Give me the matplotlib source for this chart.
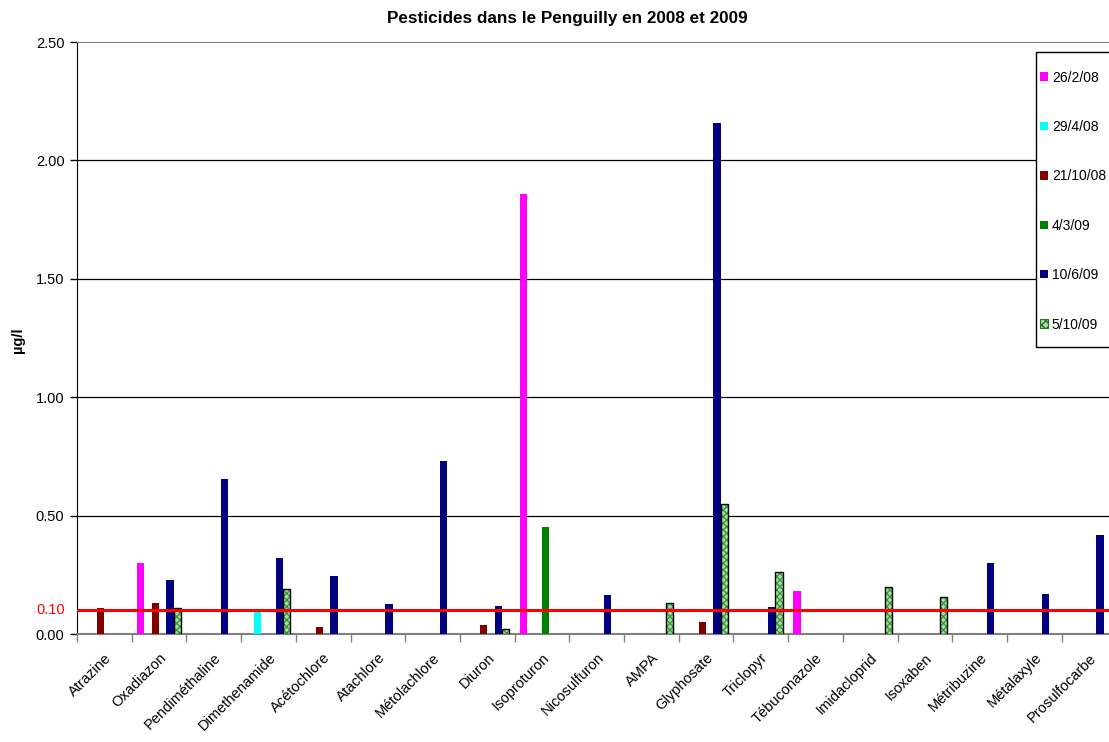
import numpy as np
import matplotlib
matplotlib.use("Agg")
import matplotlib.pyplot as plt
import matplotlib.patches as mpatches
from matplotlib.transforms import blended_transform_factory

plt.rcParams['font.family'] = ['Liberation Sans', 'DejaVu Sans']

title = "Pesticides dans le Penguilly en 2008 et 2009"
y_label = "µg/l"

categories = ["Atrazine", "Oxadiazon", "Pendiméthaline", "Dimethenamide",
              "Acétochlore", "Atachlore", "Métolachlore", "Diuron",
              "Isoproturon", "Nicosulfuron", "AMPA", "Glyphosate",
              "Triclopyr", "Tébuconazole", "Imidacloprid", "Isoxaben",
              "Métribuzine", "Métalaxyle", "Prosulfocarbe"]

series_names = ["26/2/08", "29/4/08", "21/10/08", "4/3/09", "10/6/09", "5/10/09"]

nan = np.nan
s_260208 = [nan, 0.30, nan, nan, nan, nan, nan, nan, 1.86, nan,
            nan, nan, nan, 0.18, nan, nan, nan, nan, nan]
s_290408 = [nan, nan, nan, 0.10, nan, nan, nan, nan, nan, nan,
            nan, nan, nan, nan, nan, nan, nan, nan, nan]
s_211008 = [0.11, 0.13, nan, nan, 0.03, nan, nan, 0.04, nan, nan,
            nan, 0.05, nan, nan, nan, nan, nan, nan, nan]
s_040309 = [nan, nan, nan, nan, nan, nan, nan, nan, 0.45, nan,
            nan, nan, nan, nan, nan, nan, nan, nan, nan]
s_100609 = [nan, 0.23, 0.655, 0.32, 0.245, 0.125, 0.73, 0.12, nan, 0.165,
            nan, 2.16, 0.115, nan, nan, nan, 0.30, 0.17, 0.42]
s_051009 = [nan, 0.11, nan, 0.19, nan, nan, nan, 0.02, nan, nan,
            0.13, 0.55, 0.26, nan, 0.20, 0.155, nan, nan, nan]

threshold = 0.10
y_ticks = [0.0, 0.5, 1.0, 1.5, 2.0, 2.5]

series_values = [s_260208, s_290408, s_211008, s_040309, s_100609, s_051009]
colors = ["#ff00ff", "#00ffff", "#800000", "#008000", "#000080", "#a6dea6"]

W, H = 1109, 742
fig = plt.figure(figsize=(W / 100, H / 100), dpi=100)
ax_left, ax_bottom, ax_top = 77, 634, 42
cat_px = 54.7
ax_width = cat_px * len(categories)
ax = fig.add_axes([ax_left / W, (H - ax_bottom) / H, ax_width / W,
                   (ax_bottom - ax_top) / H])

n_series = len(series_names)
bar_w = 0.134
x = np.arange(len(categories))
handles = []
for i, (name, vals, col) in enumerate(zip(series_names, series_values, colors)):
    pos = x + (i - (n_series - 1) / 2) * bar_w
    if i == n_series - 1:
        ax.bar(pos, vals, width=bar_w, color=col, hatch="xxxxx",
               edgecolor="#3c9a3c", linewidth=0, zorder=3)
        ax.bar(pos, vals, width=bar_w, facecolor="none",
               edgecolor="black", linewidth=1.0, zorder=4)
        proxy = mpatches.Patch(facecolor=col, hatch="xxxx",
                               edgecolor="#2a6e2a", linewidth=0.8, label=name)
        handles.append(proxy)
    else:
        h = ax.bar(pos, vals, width=bar_w, color=col, linewidth=0,
                   zorder=3, label=name)
        handles.append(h)

ax.set_xlim(-0.5, len(categories) - 0.5)
ax.set_ylim(0, 2.5)

# horizontal gridlines
for yv in y_ticks[1:-1]:
    ax.axhline(yv, color="black", linewidth=0.9, zorder=1)

# threshold line
ax.axhline(threshold, color="#ff0000", linewidth=2.2, zorder=5)
trans = blended_transform_factory(ax.transAxes, ax.transData)
ax.text(-0.012, threshold, f"{threshold:.2f}", transform=trans, color="#ff0000",
        ha="right", va="center", fontsize=10.5)

ax.set_yticks(y_ticks)
ax.set_yticklabels([f"{v:.2f}" for v in y_ticks], fontsize=10.5)
ax.tick_params(axis="y", direction="out", length=5, width=1, colors="black", pad=4)

ax.set_xticks(x)
ax.set_xticklabels(categories, rotation=45, ha="right", rotation_mode="anchor",
                   fontsize=10.5)
ax.tick_params(axis="x", which="major", length=0, pad=12)
ax.set_xticks(np.arange(-0.5, len(categories) + 0.5, 1), minor=True)
ax.tick_params(axis="x", which="minor", direction="out", length=6, width=1,
               color="#808080")

ax.spines["left"].set_color("black")
ax.spines["bottom"].set_color("#808080")
ax.spines["bottom"].set_linewidth(1.5)
ax.spines["top"].set_color("#808080")
ax.spines["right"].set_visible(False)

fig.text(18 / W, 1 - 340 / H, y_label, rotation=90, fontsize=10.5,
         fontweight="bold", ha="center", va="center")
fig.text(567 / W, 1 - 18 / H, title, fontsize=12.3, fontweight="bold",
         ha="center", va="center")

# legend box drawn as a plain rectangle, entries placed inside it
box_l, box_t, box_r, box_b = 1036, 52, 1120, 347
fig.patches.append(mpatches.Rectangle((box_l / W, 1 - box_b / H),
                                      (box_r - box_l) / W, (box_b - box_t) / H,
                                      transform=fig.transFigure, facecolor="white",
                                      edgecolor="black", linewidth=1.0, zorder=10))
leg = fig.legend(handles=handles, labels=series_names, loc="upper left",
                 bbox_to_anchor=(1040 / W, 1 - 70.5 / H), frameon=False,
                 fontsize=10, handlelength=0.55, handleheight=0.55,
                 handletextpad=0.3, labelspacing=2.55, borderpad=0,
                 borderaxespad=0)
leg.set_zorder(11)

fig.savefig("out.png", dpi=100)
